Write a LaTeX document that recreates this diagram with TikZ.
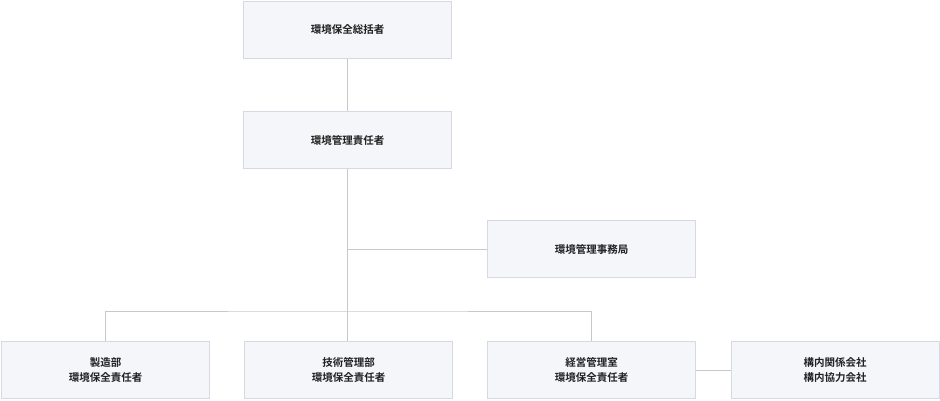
\documentclass[tikz,border=0pt]{standalone}
\usepackage{fontspec}
\newfontfamily\cjk{Noto Sans CJK JP}[BoldFont={* Bold}]
\definecolor{boxfill}{HTML}{F5F6FA}
\definecolor{boxline}{HTML}{D6D9E1}
\definecolor{conn}{HTML}{C8C8C8}
\definecolor{txt}{HTML}{222222}
\begin{document}
\begin{tikzpicture}[x=1pt,y=-1pt,
  orgbox/.style={draw=boxline,fill=boxfill,line width=0.8pt,minimum width=208pt,minimum height=57pt,
    align=center,font=\cjk\bfseries\fontsize{10.5}{15}\selectfont,text=txt,inner sep=0pt},
  link/.style={draw=conn,line width=1pt}]
\useasboundingbox (0,0) rectangle (940,400);
\node[orgbox] (a) at (347.5,30) {環境保全総括者};
\node[orgbox] (b) at (347.5,140) {環境管理責任者};
\node[orgbox] (c) at (591.5,249) {環境管理事務局};
\node[orgbox] (d) at (105.5,370) {製造部\\環境保全責任者};
\node[orgbox] (e) at (348.5,370) {技術管理部\\環境保全責任者};
\node[orgbox] (f) at (591.5,370) {経営管理室\\環境保全責任者};
\node[orgbox] (g) at (835,370) {構内関係会社\\構内協力会社};
\coordinate (j) at (347.5,311);
\draw[link] (a.south) -- (b.north);
\draw[link] (b.south) -- (j);
\draw[link] (c.west) -- (c.west -| b.south);
\draw[link] (d.north) |- (j) -| (f.north);
\draw[link] (j) -- (j |- e.north);
\draw[link] (f.east) -- (g.west);
\end{tikzpicture}
\end{document}
